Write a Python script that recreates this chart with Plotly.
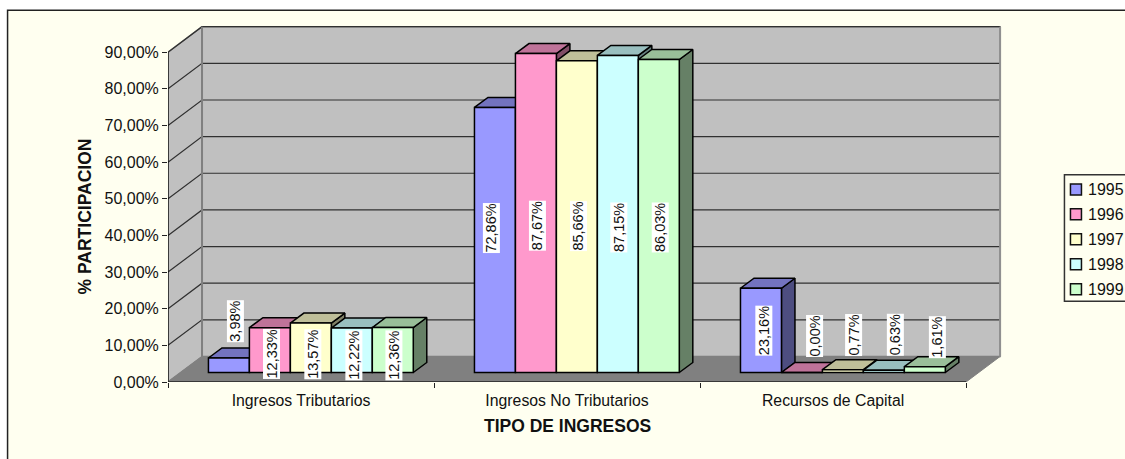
import plotly.graph_objects as go

# ---- data ----
categories = ["Ingresos Tributarios", "Ingresos No Tributarios", "Recursos de Capital"]
years = ["1995", "1996", "1997", "1998", "1999"]
v1995 = [3.98, 72.86, 23.16]
v1996 = [12.33, 87.67, 0.00]
v1997 = [13.57, 85.66, 0.77]
v1998 = [12.22, 87.15, 0.63]
v1999 = [12.36, 86.03, 1.61]
series = [v1995, v1996, v1997, v1998, v1999]
ytick_values = [0, 10, 20, 30, 40, 50, 60, 70, 80, 90]

# ---- styles ----
front = ["#9999FF", "#FF99CC", "#FFFFCC", "#CCFFFF", "#CCFFCC"]
top = ["#7373BF", "#BF7399", "#BFBF99", "#99BFBF", "#99BF99"]
side = ["#4D4D80", "#804D66", "#808066", "#668080", "#668066"]
IVORY = "#FFFFF0"
FONT = "Liberation Sans, Arial, sans-serif"

# ---- geometry (figure pixels) ----
W, H = 1125, 459
L, R, T, B = 168.3, 1005.6, 23.3, 382.0
PX_X = (965.7 - 168.3) / 3          # px per category
PX_Y = (382.0 - 52.5) / 90          # px per percent on the walls
PX_BAR = 3.635                      # px per percent on the bars (they stand further back)
XMAX = (R - L) / PX_X
YMAX = (B - T) / PX_Y
YMAX2 = (B - T) / PX_BAR


def ux(px):
    return (px - L) / PX_X


def uy(py):
    return (B - py) / PX_Y


def paper_x(px):
    return (px - L) / (R - L)


def paper_y(py):
    return (B - py) / (B - T)


WALL_DX, WALL_DY = 34 / PX_X, 25.5 / PX_Y
BAR_DX, BAR_DY = 13.5 / PX_X, 10 / PX_Y
BASE_PX = 9.5
BASE2 = BASE_PX / PX_BAR            # bar foot, on the bar axis
BASE = BASE_PX / PX_Y               # bar foot, on the wall axis
K = PX_BAR / PX_Y                   # bar-axis units to wall-axis units
GROUP_FRAC = 0.77
GROUP_CENTER = 0.537
BAR_W = GROUP_FRAC / len(series)

fig = go.Figure()


def poly(xs, ys, fill, line="#000000", width=1.0, axes=("x", "y")):
    fig.add_trace(go.Scatter(x=xs, y=ys, mode="lines", fill="toself", fillcolor=fill,
                             line=dict(color=line, width=width), hoverinfo="skip",
                             showlegend=False, cliponaxis=False, xaxis=axes[0], yaxis=axes[1]))


def path(xs, ys, color, width=1.0, axes=("x", "y")):
    fig.add_trace(go.Scatter(x=xs, y=ys, mode="lines", line=dict(color=color, width=width),
                             hoverinfo="skip", showlegend=False, cliponaxis=False,
                             xaxis=axes[0], yaxis=axes[1]))


# walls and floor
poly([0, WALL_DX, WALL_DX, 0, 0], [0, WALL_DY, 90 + WALL_DY, 90, 0], "#C0C0C0", "#808080", 1.5)
poly([WALL_DX, 3 + WALL_DX, 3 + WALL_DX, WALL_DX, WALL_DX],
     [WALL_DY, WALL_DY, 90 + WALL_DY, 90 + WALL_DY, WALL_DY], "#C0C0C0", "#808080", 1.5)
poly([0, 3, 3 + WALL_DX, WALL_DX, 0], [0, 0, WALL_DY, WALL_DY, 0], "#808080", "#808080", 1)
for t in ytick_values[1:]:
    path([0, WALL_DX, 3 + WALL_DX], [t, t + WALL_DY, t + WALL_DY], "#303030", 1.2)
path([WALL_DX, WALL_DX], [WALL_DY, 90 + WALL_DY], "#808080", 2)
path([3 + WALL_DX, 3 + WALL_DX], [WALL_DY, 90 + WALL_DY], "#909090", 2)

# 3-D side and top faces, left to right
for s, vals in enumerate(series):
    sx, sy, tx, ty = [], [], [], []
    for g, v in enumerate(vals):
        x1 = g + GROUP_CENTER - GROUP_FRAC / 2 + s * BAR_W
        x2 = x1 + BAR_W
        h = BASE + v * K
        sx += [x2, x2 + BAR_DX, x2 + BAR_DX, x2, x2, None]
        sy += [BASE, BASE + BAR_DY, h + BAR_DY, h, BASE, None]
        tx += [x1, x2, x2 + BAR_DX, x1 + BAR_DX, x1, None]
        ty += [h, h, h + BAR_DY, h + BAR_DY, h, None]
    poly(sx, sy, side[s], "#000000", 1.5)
    poly(tx, ty, top[s], "#000000", 1.5)

# front faces on the overlay axes, so they sit above every top and side
for s, vals in enumerate(series):
    fig.add_trace(go.Bar(x=[g + GROUP_CENTER for g in range(3)], y=vals, base=BASE2,
                         name=years[s], marker=dict(color=front[s], line=dict(color="#000000", width=1.5)),
                         xaxis="x2", yaxis="y2", showlegend=False,
                         hovertemplate="%{y:.2f}%<extra>" + years[s] + "</extra>"))

# axis lines
path([0, 0], [0, 90 / K], "#000000", 1.2, ("x2", "y2"))
path([0, 3], [0, 0], "#202020", 1.6, ("x2", "y2"))

# value labels
label_px = [
    [(235.3, 321.7), (491, 227.7), (763.3, 330.7)],
    [(271.7, 354), (537.3, 226), (814.3, 336)],
    [(313, 354), (578, 226.7), (853.3, 335)],
    [(354, 355), (618.3, 227.7), (895, 335)],
    [(394, 355), (660, 228), (936.7, 337.7)],
]
ann = []
for s, vals in enumerate(series):
    for g, v in enumerate(vals):
        px, py = label_px[s][g]
        ann.append(dict(x=ux(px), y=uy(py), xref="x", yref="y", text=f"{v:.2f}%".replace(".", ","),
                        textangle=-90, showarrow=False, bgcolor="#FFFFFF", borderpad=0,
                        font=dict(family=FONT, size=14.5, color="#111111")))

# axis titles
ann.append(dict(x=paper_x(85), y=paper_y(217), xref="paper", yref="paper", text="<b>% PARTICIPACION</b>",
                xanchor="center", yanchor="middle", textangle=-90, showarrow=False,
                font=dict(family="Liberation Sans", size=17.5, color="#111111")))
ann.append(dict(x=paper_x(567), y=paper_y(426), xref="paper", yref="paper", text="<b>TIPO DE INGRESOS</b>",
                xanchor="center", yanchor="middle", showarrow=False,
                font=dict(family="Liberation Sans", size=17.5, color="#111111")))

shapes = [
    dict(type="rect", xref="paper", yref="paper", x0=paper_x(8), x1=paper_x(1135), y0=paper_y(10.5),
         y1=paper_y(470), fillcolor=IVORY, line=dict(color="#222222", width=1.5), layer="below"),
    dict(type="rect", xref="paper", yref="paper", x0=paper_x(1064), x1=paper_x(1135), y0=paper_y(175),
         y1=paper_y(301.3), fillcolor=IVORY, line=dict(color="#333333", width=1.5), layer="below"),
]

# legend
leg_y = [189.7, 214.3, 239.3, 264.3, 289.3]
for name, color, py in zip(years, front, leg_y):
    shapes.append(dict(type="rect", xref="paper", yref="paper", x0=paper_x(1070), x1=paper_x(1081),
                       y0=paper_y(py - 5.5), y1=paper_y(py + 5.5), fillcolor=color,
                       line=dict(color="#111111", width=1.5), layer="above"))
    ann.append(dict(x=paper_x(1086.5), y=paper_y(py), xref="paper", yref="paper", text=name, xanchor="left",
                    yanchor="middle", showarrow=False, borderpad=0,
                    font=dict(family=FONT, size=16, color="#111111")))

fig.update_layout(
    width=W, height=H, autosize=False,
    margin=dict(l=L, r=W - R, t=T, b=H - B, pad=0, autoexpand=False),
    paper_bgcolor="#FFFFFF", plot_bgcolor="rgba(0,0,0,0)",
    barmode="group", bargap=1 - GROUP_FRAC, bargroupgap=0,
    showlegend=False, annotations=ann, shapes=shapes,
    font=dict(family=FONT, size=16, color="#111111"),
    xaxis=dict(range=[0, XMAX], tickmode="array", tickvals=[g + 0.5 for g in range(3)], ticktext=categories,
               ticks="", showgrid=False, zeroline=False, showline=False, tickfont=dict(size=15.8),
               ticklabelstandoff=7,
               minor=dict(tickmode="array", tickvals=[0, 1, 2, 3], ticks="outside", ticklen=5,
                          tickcolor="#222222", tickwidth=1, showgrid=False)),
    yaxis=dict(range=[0, YMAX], tickmode="array", tickvals=ytick_values,
               ticktext=[f"{t},00%" for t in ytick_values], ticks="outside", ticklen=5,
               tickcolor="#222222", tickwidth=1.2, showgrid=False, zeroline=False, showline=False,
               tickfont=dict(size=16)),
    xaxis2=dict(range=[0, XMAX], overlaying="x", visible=False),
    yaxis2=dict(range=[0, YMAX2], overlaying="y", visible=False),
)
fig.write_html("out.html", config={"displayModeBar": False},
               post_script="document.body.style.margin='0';document.body.style.overflow='hidden';")
